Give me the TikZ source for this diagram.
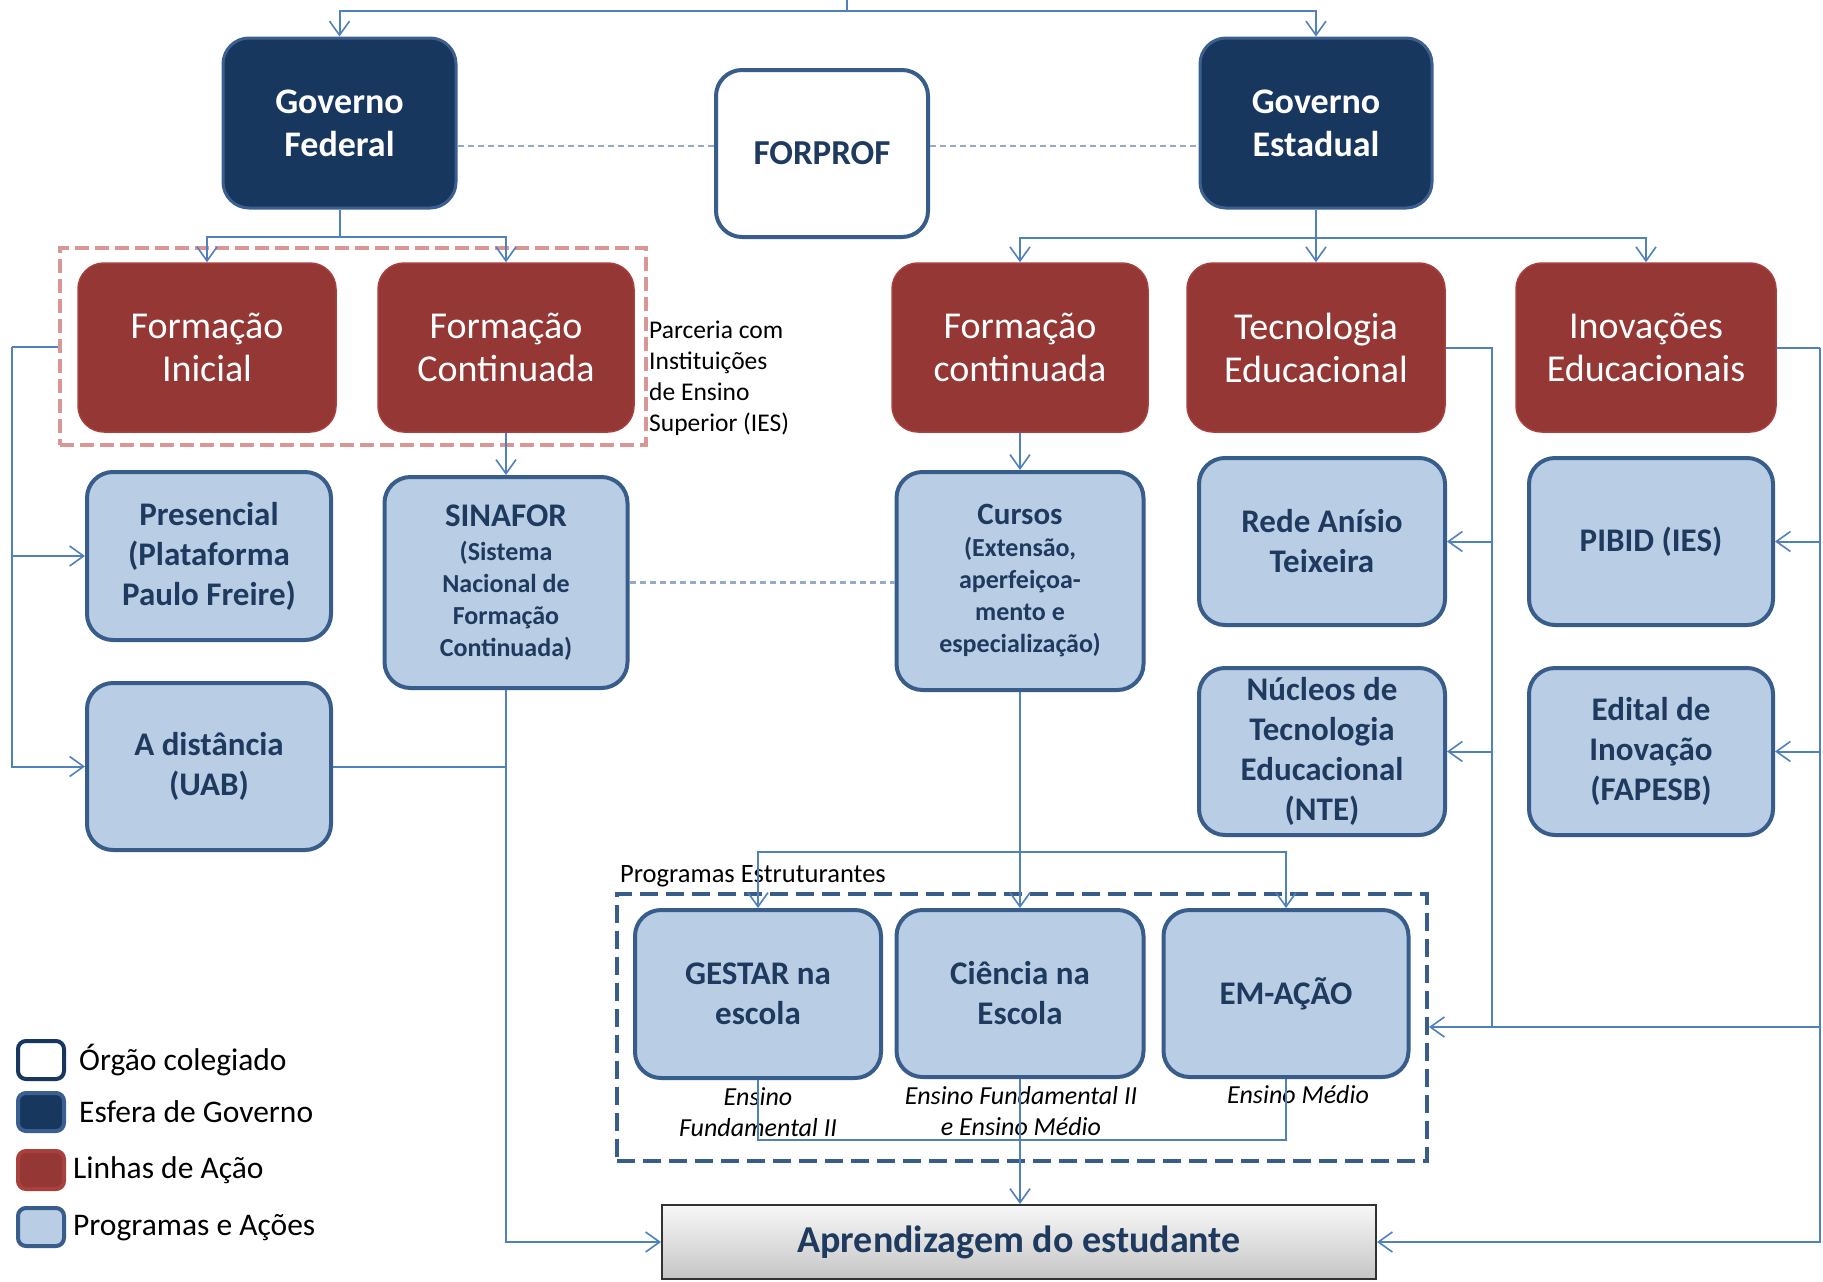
\documentclass[tikz,border=0pt]{standalone}
\usepackage{fontspec}
\setmainfont{Carlito}
\usetikzlibrary{arrows.meta}
\definecolor{govfill}{HTML}{17375E}
\definecolor{govdraw}{HTML}{3B5F8F}
\definecolor{redfill}{HTML}{953735}
\definecolor{reddraw}{HTML}{A8403E}
\definecolor{bluefill}{HTML}{B9CDE5}
\definecolor{bluedraw}{HTML}{385D8A}
\definecolor{navytext}{HTML}{1F3A5F}
\definecolor{linecol}{HTML}{4F81BD}
\definecolor{dashcol}{HTML}{95A9C9}
\definecolor{pinkdash}{HTML}{D99694}
\begin{document}
\begin{tikzpicture}[x=1pt,y=-1pt,
  gov/.style={rectangle, rounded corners=26pt, fill=govfill, draw=govdraw, line width=3pt, text=white,
    font=\fontsize{36}{43}\selectfont\bfseries, align=center, inner sep=0pt},
  linha/.style={rectangle, rounded corners=26pt, fill=redfill, draw=reddraw, line width=1.5pt, text=white,
    font=\fontsize{38}{43}\selectfont, align=center, inner sep=0pt},
  prog/.style={rectangle, rounded corners=26pt, fill=bluefill, draw=bluedraw, line width=4pt, text=navytext,
    font=\fontsize{33}{40}\selectfont\bfseries, align=center, inner sep=0pt},
  progsmall/.style={prog, font=\fontsize{26}{32}\selectfont\bfseries},
  conn/.style={draw=linecol, line width=2pt},
  arr/.style={conn, -{Straight Barb[length=14pt,width=20pt,line width=1.6pt]}},
  dashconn/.style={draw=dashcol, line width=2.5pt, dash pattern=on 6pt off 4pt},
  lab/.style={font=\fontsize{25.5}{31}\selectfont, inner sep=0pt},
  ital/.style={font=\fontsize{26}{31}\selectfont\itshape, align=center, inner sep=0pt},
  legbox/.style={rectangle, rounded corners=8pt, minimum width=46pt, minimum height=38pt, inner sep=0pt, line width=4pt},
  legtxt/.style={font=\fontsize{31.5}{37}\selectfont, anchor=west, inner sep=0pt}
]
\fill[white] (0,0) rectangle (1823,1282);
\useasboundingbox (0,0) rectangle (1823,1282);

% grouping boxes
\node[draw=pinkdash, line width=4pt, dash pattern=on 14pt off 6pt, minimum width=586pt, minimum height=197pt, inner sep=0pt] (ies) at (353,346.5) {};
\node[draw=bluedraw, line width=4pt, dash pattern=on 18pt off 8pt, minimum width=810pt, minimum height=267pt, inner sep=0pt] (progbox) at (1022,1027) {};

% government
\node[gov, minimum width=233pt, minimum height=170pt] (gf) at (339.5,123) {Governo\\Federal};
\node[gov, minimum width=232pt, minimum height=170pt] (ge) at (1316,123) {Governo\\Estadual};
\node[rectangle, rounded corners=26pt, draw=bluedraw, fill=white, line width=4pt, text=navytext,
  font=\fontsize{35}{42}\selectfont\bfseries, minimum width=212pt, minimum height=167pt, inner sep=0pt] (fp) at (822,153.5) {FORPROF};

% lines of action
\node[linha, minimum width=258pt, minimum height=169pt] (fi) at (207,347.5) {Formação\\Inicial};
\node[linha, minimum width=256pt, minimum height=169pt] (fc) at (506,347.5) {Formação\\Continuada};
\node[linha, minimum width=256pt, minimum height=169pt] (fcr) at (1020,347.5) {Formação\\continuada};
\node[linha, minimum width=258pt, minimum height=169pt] (te) at (1316,347.5) {Tecnologia\\Educacional};
\node[linha, minimum width=260pt, minimum height=169pt] (ie) at (1646,347.5) {Inovações\\Educacionais};

% programs
\node[prog, minimum width=244pt, minimum height=168pt] (pres) at (209,556) {Presencial\\(Plataforma\\Paulo Freire)};
\node[progsmall, minimum width=243pt, minimum height=211pt] (sin) at (506,582.5) {{\fontsize{33}{40}\selectfont SINAFOR}\\[2pt](Sistema\\Nacional de\\Formação\\Continuada)};
\node[prog, minimum width=244pt, minimum height=167pt] (dist) at (209,766.5) {A distância\\(UAB)};
\node[progsmall, minimum width=247pt, minimum height=218pt] (cur) at (1020,581) {{\fontsize{31}{37}\selectfont Cursos}\\(Extensão,\\aperfeiçoa-\\mento e\\especialização)};
\node[prog, minimum width=246pt, minimum height=167pt] (rede) at (1322,541.5) {Rede Anísio\\Teixeira};
\node[prog, minimum width=246pt, minimum height=167pt] (nte) at (1322,751.5) {Núcleos de\\Tecnologia\\Educacional\\(NTE)};
\node[prog, minimum width=244pt, minimum height=167pt] (pibid) at (1651,541.5) {PIBID (IES)};
\node[prog, minimum width=244pt, minimum height=167pt] (edital) at (1651,751.5) {Edital de\\Inovação\\(FAPESB)};
\node[prog, minimum width=246pt, minimum height=168pt] (gestar) at (758,994) {GESTAR na\\escola};
\node[prog, minimum width=247pt, minimum height=167pt] (cien) at (1020,993.5) {Ciência na\\Escola};
\node[prog, minimum width=245pt, minimum height=167pt] (emacao) at (1286,993.5) {EM-AÇÃO};

% outcome
\node[rectangle, draw=black!80, line width=2pt, top color=gray!6, bottom color=gray!45, text=navytext,
  font=\fontsize{38}{44}\selectfont\bfseries, minimum width=714pt, minimum height=74pt, inner sep=0pt] (apr) at (1019,1242) {Aprendizagem do estudante};

% labels
\node[lab, anchor=west, align=left] (parc) at (649,378) {Parceria com\\Instituições\\de Ensino\\Superior (IES)};
\node[lab, anchor=west, font=\fontsize{26.5}{31}\selectfont] (pest) at (620,876) {Programas Estruturantes};
\node[ital] (ens1) at (758,1112) {Ensino\\Fundamental II};
\node[ital] (ens2) at (1021,1111) {Ensino Fundamental II\\e Ensino Médio};
\node[ital] (ens3) at (1298,1095) {Ensino Médio};

% legend
\node[legbox, draw=govfill, fill=white] (lg1) at (41,1060) {};
\node[legbox, draw=govdraw, fill=govfill] (lg2) at (41,1112) {};
\node[legbox, draw=reddraw, fill=redfill] (lg3) at (41,1170) {};
\node[legbox, draw=bluedraw, fill=bluefill] (lg4) at (41,1227) {};
\node[legtxt] (lt1) at (79,1060) {Órgão colegiado};
\node[legtxt] (lt2) at (79,1112) {Esfera de Governo};
\node[legtxt] (lt3) at (73,1170) {Linhas de Ação};
\node[legtxt] (lt4) at (73,1228) {Programas e Ações};

% connectors: top
\coordinate (topin) at (847,0);
\coordinate (topbus) at (847,11);
\draw[conn] (topin) -- (topbus);
\draw[arr] (topbus) -| (gf.north);
\draw[arr] (topbus) -| (ge.north);

% dashed links to FORPROF
\coordinate (dy) at (0,146);
\draw[dashconn] (gf.east |- dy) -- (fp.west |- dy);
\draw[dashconn] (fp.east |- dy) -- (ge.west |- dy);

% federal branch
\draw[arr] (gf.south) -- ++(0,27) -| (fi.north);
\draw[arr] (gf.south) -- ++(0,27) -| (fc.north);

% estadual branch
\draw[arr] (ge.south) -- ++(0,28) -| (fcr.north);
\draw[arr] (ge.south) -- (te.north);
\draw[arr] (ge.south) -- ++(0,28) -| (ie.north);

% left bus from IES box
\coordinate (lbus) at (12,346.5);
\draw[conn] (ies.west) -- (lbus);
\draw[arr] (lbus) |- (pres.west);
\draw[arr] (lbus) |- (dist.west);

% SINAFOR
\draw[arr] (fc.south) -- (sin.north);
\draw[arr] (sin.south) |- (apr.west);
\draw[conn] (dist.east) -- (dist.east -| sin.south);
\draw[dashconn] (sin.east) -- (sin.east -| cur.west);

% Cursos
\draw[arr] (fcr.south) -- (cur.north);
\draw[arr] (cur.south) -- (cien.north);
\coordinate (pbus) at (1020,852);
\draw[arr] (pbus) -| (gestar.north);
\draw[arr] (pbus) -| (emacao.north);

% bottom bus of programs
\coordinate (bbus) at (1020,1140);
\draw[conn] (gestar.south) -- (gestar.south |- bbus) -- (emacao.south |- bbus) -- (emacao.south);
\draw[arr] (cien.south) -- (cien.south |- apr.north);

% right side
\coordinate (tbus) at (1492,347.5);
\draw[conn] (te.east) -- (tbus) -- (tbus |- progbox.east);
\draw[arr] (tbus) |- (rede.east);
\draw[arr] (tbus) |- (nte.east);
\coordinate (ibus) at (1820,347.5);
\draw[conn] (ie.east) -- (ibus);
\draw[arr] (ibus) |- (pibid.east);
\draw[arr] (ibus) |- (edital.east);
\draw[arr] (ibus) |- (progbox.east);
\draw[arr] (ibus) |- (apr.east);
\end{tikzpicture}
\end{document}
